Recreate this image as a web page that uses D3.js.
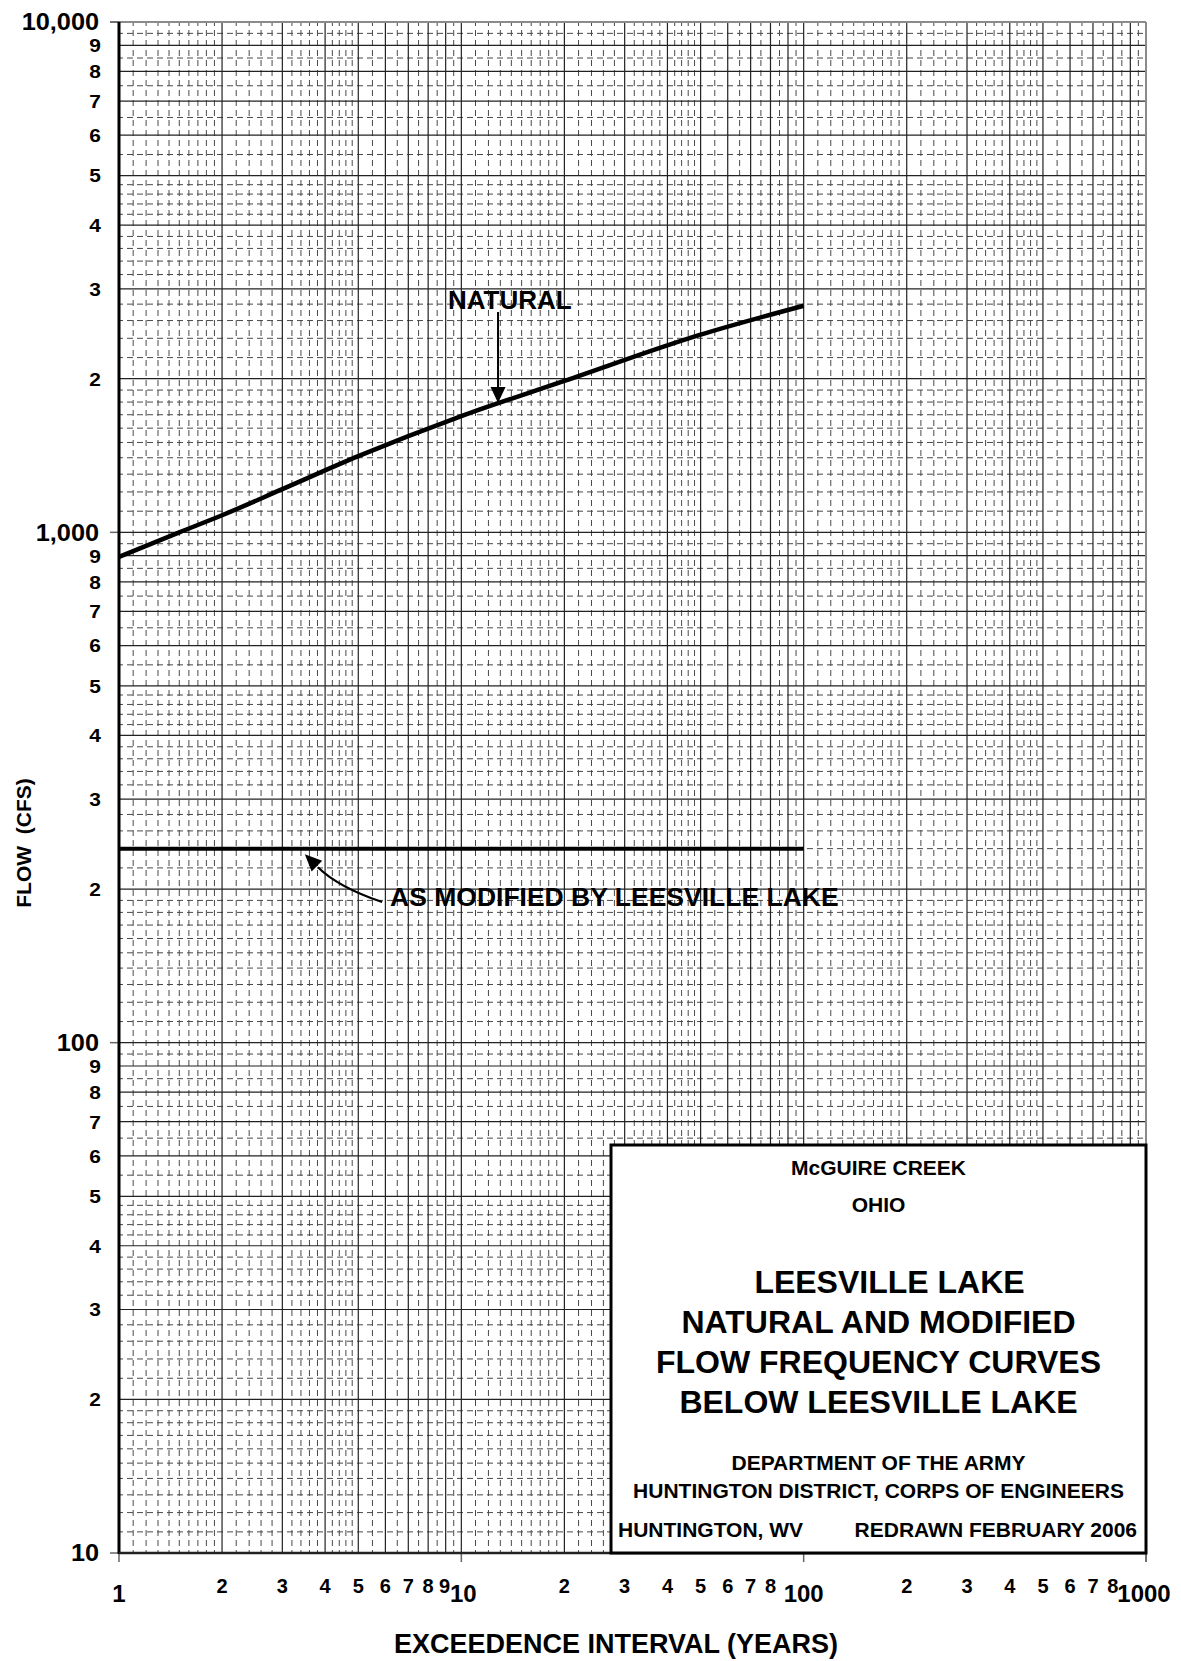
<!DOCTYPE html>
<html>
<head>
<meta charset="utf-8">
<script src="https://cdn.jsdelivr.net/npm/d3@7"></script>
<style>
  html, body { margin: 0; padding: 0; background: #fff; }
  svg { display: block; }
  text { font-family: "Liberation Sans", Arial, Helvetica, sans-serif; font-weight: bold; fill: #000; }
</style>
</head>
<body>
<svg id="chart" width="1181" height="1661"></svg>
<script>
// Flow frequency data (exceedence interval in years, flow in cfs)
const naturalT = [1, 1.5, 2, 3, 5, 10, 20, 50, 100];
const naturalQ = [895, 1000, 1080, 1215, 1410, 1690, 1980, 2440, 2780];
const modifiedT = [1, 100];
const modifiedQ = [240, 240];

// Axis tick values and labels
const xMajorTicks = [1, 10, 100, 1000];
const xMajorLabels = ["1", "10", "100", "1000"];
const xMinorTicks = [2, 3, 4, 5, 6, 7, 8, 9, 20, 30, 40, 50, 60, 70, 80, 200, 300, 400, 500, 600, 700, 800];
const yMajorTicks = [10, 100, 1000, 10000];
const yMajorLabels = ["10", "100", "1,000", "10,000"];
const yMinorTicks = [20, 30, 40, 50, 60, 70, 80, 90, 200, 300, 400, 500, 600, 700, 800, 900, 2000, 3000, 4000, 5000, 6000, 7000, 8000, 9000];

// Title block text
const blockSmallTop = ["McGUIRE CREEK", "OHIO"];
const blockTitle = ["LEESVILLE LAKE", "NATURAL AND MODIFIED", "FLOW FREQUENCY CURVES", "BELOW LEESVILLE LAKE"];
const blockSmallBottom = ["DEPARTMENT OF THE ARMY", "HUNTINGTON DISTRICT, CORPS OF ENGINEERS"];
const blockFooterLeft = "HUNTINGTON, WV";
const blockFooterRight = "REDRAWN FEBRUARY 2006";

const svg = d3.select("#chart");
const L = 119, R = 1146, T = 22, B = 1553;

const x = d3.scaleLog().domain([1, 1000]).range([L, R]);
const y = d3.scaleLog().domain([10, 10000]).range([B, T]);

svg.append("rect").attr("width", 1181).attr("height", 1661).attr("fill", "#fff");

// Log-paper rulings: fine steps 0.1 (1-2), 0.2 (2-5), 0.5 (5-10) inside each decade
function fineSteps() {
  const s = [];
  for (let i = 11; i <= 19; i++) s.push(i / 10);
  for (let i = 22; i < 50; i += 2) if (i % 10 !== 0) s.push(i / 10);
  for (let i = 55; i < 100; i += 10) s.push(i / 10);
  return s;
}
const fine = fineSteps();
function decadeValues(decades, steps) {
  const out = [];
  decades.forEach(d => steps.forEach(s => out.push(d * s)));
  return out;
}
const xFine = decadeValues([1, 10, 100], fine);
const yFine = decadeValues([10, 100, 1000], fine);
const ints = [2, 3, 4, 5, 6, 7, 8, 9];
const xMain = decadeValues([1, 10, 100], ints).concat([10, 100]);
const yMain = decadeValues([10, 100, 1000], ints).concat([100, 1000]);

const grid = svg.append("g");
grid.selectAll(".vf").data(xFine).join("line")
  .attr("x1", d => x(d)).attr("x2", d => x(d)).attr("y1", T).attr("y2", B)
  .attr("stroke", "#4a4a4a").attr("stroke-width", 1).attr("stroke-dasharray", "6,4")
  .attr("stroke-dashoffset", 2);
grid.selectAll(".hf").data(yFine).join("line")
  .attr("x1", L).attr("x2", R).attr("y1", d => y(d)).attr("y2", d => y(d))
  .attr("stroke", "#4a4a4a").attr("stroke-width", 1).attr("stroke-dasharray", "6,4")
  .attr("stroke-dashoffset", 2);
grid.selectAll(".vm").data(xMain).join("line")
  .attr("x1", d => x(d)).attr("x2", d => x(d)).attr("y1", T).attr("y2", B)
  .attr("stroke", "#222").attr("stroke-width", 1.2);
grid.selectAll(".hm").data(yMain).join("line")
  .attr("x1", L).attr("x2", R).attr("y1", d => y(d)).attr("y2", d => y(d))
  .attr("stroke", "#222").attr("stroke-width", 1.2);

// Frame and decade ticks
const frame = svg.append("g");
frame.append("line").attr("x1", 110).attr("x2", R).attr("y1", T).attr("y2", T)
  .attr("stroke", "#8a8a8a").attr("stroke-width", 2);
frame.append("line").attr("x1", R).attr("x2", R).attr("y1", T).attr("y2", B + 9)
  .attr("stroke", "#8a8a8a").attr("stroke-width", 2);
frame.selectAll(".yt").data(yMajorTicks).join("line")
  .attr("x1", 110).attr("x2", L).attr("y1", d => y(d)).attr("y2", d => y(d))
  .attr("stroke", "#666").attr("stroke-width", 1.5);
frame.selectAll(".xt").data(xMajorTicks).join("line")
  .attr("x1", d => x(d)).attr("x2", d => x(d)).attr("y1", B).attr("y2", B + 9)
  .attr("stroke", "#666").attr("stroke-width", 1.5);
frame.append("line").attr("x1", L).attr("x2", L).attr("y1", T).attr("y2", B + 1)
  .attr("stroke", "#000").attr("stroke-width", 3);
frame.append("line").attr("x1", L).attr("x2", R).attr("y1", B).attr("y2", B)
  .attr("stroke", "#222").attr("stroke-width", 2.5);

// Title block
const bx0 = 611, by0 = 1145;
const block = svg.append("g");
block.append("rect").attr("x", bx0).attr("y", by0).attr("width", R - bx0).attr("height", B - by0)
  .attr("fill", "#fff").attr("stroke", "#000").attr("stroke-width", 3);
const bcx = (bx0 + R) / 2;
block.selectAll(".st").data(blockSmallTop).join("text")
  .attr("x", bcx).attr("y", (d, i) => 1175 + i * 37)
  .attr("text-anchor", "middle").attr("font-size", 21).text(d => d);
block.selectAll(".tt").data(blockTitle).join("text")
  .attr("x", (d, i) => bcx + (i === 0 ? 11 : 0)).attr("y", (d, i) => 1293 + i * 40)
  .attr("text-anchor", "middle").attr("font-size", 32).text(d => d);
block.selectAll(".sb").data(blockSmallBottom).join("text")
  .attr("x", bcx).attr("y", (d, i) => 1470 + i * 28)
  .attr("text-anchor", "middle").attr("font-size", 21).text(d => d);
block.append("text").attr("x", 618).attr("y", 1537).attr("font-size", 21).text(blockFooterLeft);
block.append("text").attr("x", 1137).attr("y", 1537).attr("text-anchor", "end")
  .attr("font-size", 21).text(blockFooterRight);

// Curves
const line = d3.line().x(d => x(d[0])).y(d => y(d[1])).curve(d3.curveMonotoneX);
svg.append("path").datum(naturalT.map((t, i) => [t, naturalQ[i]]))
  .attr("d", line).attr("fill", "none").attr("stroke", "#000").attr("stroke-width", 4.5)
  .attr("stroke-linecap", "butt");
svg.append("path").datum(modifiedT.map((t, i) => [t, modifiedQ[i]]))
  .attr("d", line).attr("fill", "none").attr("stroke", "#000").attr("stroke-width", 4)
  .attr("stroke-linecap", "butt");

// Annotations
function arrowHead(g, tip, dir, len, half) {
  const n = Math.hypot(dir[0], dir[1]);
  const u = [dir[0] / n, dir[1] / n];
  const p = [-u[1], u[0]];
  const b = [tip[0] - u[0] * len, tip[1] - u[1] * len];
  g.append("path")
    .attr("d", `M${tip[0]},${tip[1]}L${b[0] + p[0] * half},${b[1] + p[1] * half}L${b[0] - p[0] * half},${b[1] - p[1] * half}Z`)
    .attr("fill", "#000");
  return b;
}
const ann = svg.append("g");
// NATURAL label and vertical arrow onto the natural curve
ann.append("text").attr("x", x(9.14)).attr("y", y(2739)).attr("font-size", 26).text("NATURAL");
const natTip = [x(12.8), y(1792)];
const natBase = arrowHead(ann, natTip, [0, 1], 16, 7.5);
ann.append("line").attr("x1", natTip[0]).attr("x2", natTip[0]).attr("y1", y(2702)).attr("y2", natBase[1] + 1)
  .attr("stroke", "#000").attr("stroke-width", 2);

// Modified label and curved arrow onto the regulated line
ann.append("text").attr("x", x(6.19)).attr("y", y(185)).attr("font-size", 26.5)
  .text("AS MODIFIED BY LEESVILLE LAKE");
const modTip = [x(3.49), y(234)];
const modStart = [x(5.87), y(188.6)];
const modCtrl = [338, 887];
const modBase = arrowHead(ann, modTip, [modTip[0] - modCtrl[0], modTip[1] - modCtrl[1]], 17, 7.5);
ann.append("path")
  .attr("d", `M${modStart[0]},${modStart[1]}Q${modCtrl[0]},${modCtrl[1]} ${modBase[0] + 1},${modBase[1] + 1}`)
  .attr("fill", "none").attr("stroke", "#000").attr("stroke-width", 2.2);

// Axis labels
const axes = svg.append("g");
axes.selectAll(".ymaj").data(yMajorTicks).join("text")
  .attr("transform", d => `translate(99,${y(d)}) scale(1.1,1)`)
  .attr("dy", "0.36em").attr("text-anchor", "end").attr("font-size", 23)
  .text((d, i) => yMajorLabels[i]);
axes.selectAll(".ymin").data(yMinorTicks).join("text")
  .attr("transform", d => `translate(101,${y(d)}) scale(1.1,1)`)
  .attr("dy", "0.36em").attr("text-anchor", "end").attr("font-size", 19)
  .text(d => String(d).charAt(0));
axes.selectAll(".xmaj").data(xMajorTicks).join("text")
  .attr("transform", (d, i) => `translate(${x(d) + [0, 2, 0, -2][i]},1602)`)
  .attr("text-anchor", "middle").attr("font-size", 24)
  .text((d, i) => xMajorLabels[i]);
axes.selectAll(".xmin").data(xMinorTicks).join("text")
  .attr("transform", d => `translate(${x(d) - (d === 9 ? 1 : 0)},1593)`)
  .attr("text-anchor", "middle").attr("font-size", 20)
  .text(d => String(d).charAt(0));

axes.append("text").attr("x", 616).attr("y", 1653).attr("text-anchor", "middle")
  .attr("font-size", 27).text("EXCEEDENCE INTERVAL (YEARS)");
axes.append("text").attr("transform", "translate(31,843) rotate(-90)")
  .attr("text-anchor", "middle").attr("font-size", 21).style("white-space", "pre")
  .text("FLOW  (CFS)");
</script>
</body>
</html>
